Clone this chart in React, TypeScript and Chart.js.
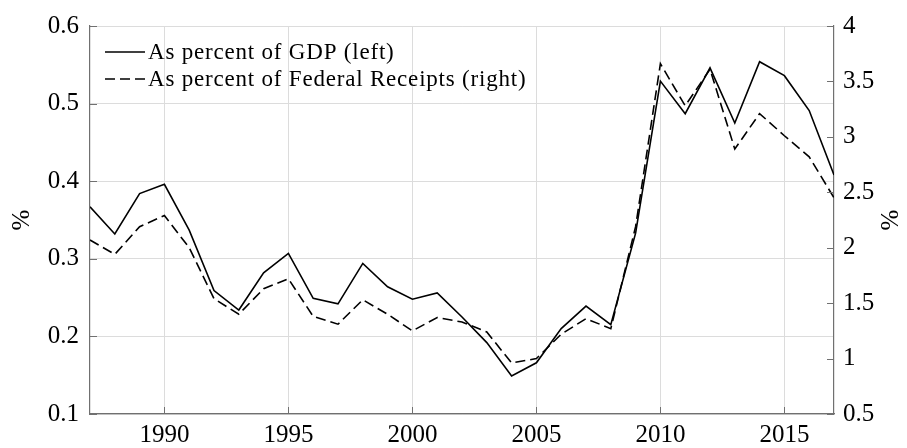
import React, { useEffect, useRef } from "react";
import Chart from "chart.js/auto";

const years = [1987,1988,1989,1990,1991,1992,1993,1994,1995,1996,1997,1998,1999,2000,2001,2002,2003,2004,2005,2006,2007,2008,2009,2010,2011,2012,2013,2014,2015,2016,2017];
const pctGDP = [0.367,0.332,0.384,0.396,0.337,0.259,0.234,0.282,0.307,0.249,0.242,0.294,0.264,0.248,0.256,0.225,0.192,0.149,0.166,0.210,0.239,0.215,0.333,0.529,0.487,0.546,0.475,0.554,0.536,0.491,0.408];
const pctReceipts = [2.07,1.94,2.19,2.29,2.00,1.54,1.40,1.63,1.72,1.38,1.31,1.53,1.40,1.25,1.37,1.33,1.24,0.96,1.00,1.22,1.36,1.27,2.19,3.66,3.28,3.61,2.89,3.21,3.01,2.82,2.45];
const xTicks = [1990,1995,2000,2005,2010,2015];
const leftTicks = [0.1,0.2,0.3,0.4,0.5,0.6];
const rightTicks = [0.5,1,1.5,2,2.5,3,3.5,4];
const legendLabels = ["As percent of GDP (left)", "As percent of Federal Receipts (right)"];
const axisTitle = "%";

const FONT = "'Liberation Serif', 'DejaVu Serif', serif";
const AXIS = "#707070";
const DASH = [10, 5];

export default function App() {
  const ref = useRef<HTMLCanvasElement | null>(null);
  useEffect(() => {
    document.body.style.margin = "0";
    const canvas = ref.current!;
    const inward = {
      id: "inward",
      afterDraw(chart: any) {
        const ctx = chart.ctx;
        const a = chart.chartArea;
        const L = 7;
        ctx.save();
        ctx.strokeStyle = AXIS;
        ctx.lineWidth = 1;
        ctx.beginPath();
        chart.scales.y.ticks.forEach((t: any) => {
          const y = Math.round(chart.scales.y.getPixelForValue(t.value)) + 0.5;
          ctx.moveTo(a.left, y); ctx.lineTo(a.left + L, y);
        });
        chart.scales.y1.ticks.forEach((t: any) => {
          const y = Math.round(chart.scales.y1.getPixelForValue(t.value)) + 0.5;
          ctx.moveTo(a.right, y); ctx.lineTo(a.right - L, y);
        });
        chart.scales.x.ticks.forEach((t: any) => {
          const x = Math.round(chart.scales.x.getPixelForValue(t.value)) + 0.5;
          ctx.moveTo(x, a.bottom); ctx.lineTo(x, a.bottom - L);
        });
        ctx.stroke();
        // axis titles, both rotated counter-clockwise
        ctx.fillStyle = "#000";
        ctx.font = `25px ${FONT}`;
        ctx.textAlign = "center";
        ctx.textBaseline = "middle";
        const midY = (a.top + a.bottom) / 2;
        [22, 891].forEach((x) => {
          ctx.save();
          ctx.translate(x, midY);
          ctx.rotate(-Math.PI / 2);
          ctx.fillText(axisTitle, 0, 0);
          ctx.restore();
        });
        // legend
        ctx.font = `23px ${FONT}`;
        (ctx as any).letterSpacing = "0.8px";
        ctx.textAlign = "left";
        const lx = a.left + 15;
        const rows = [a.top + 26, a.top + 53];
        ctx.strokeStyle = "#000";
        ctx.lineWidth = 1.6;
        ctx.setLineDash([]);
        ctx.beginPath(); ctx.moveTo(lx, rows[0]); ctx.lineTo(lx + 40, rows[0]); ctx.stroke();
        ctx.setLineDash(DASH);
        ctx.beginPath(); ctx.moveTo(lx, rows[1]); ctx.lineTo(lx + 40, rows[1]); ctx.stroke();
        ctx.setLineDash([]);
        ctx.fillText(legendLabels[0], lx + 43, rows[0] + 1);
        ctx.fillText(legendLabels[1], lx + 43, rows[1] + 1);
        ctx.restore();
      },
    };
    const tickFont = { family: FONT, size: 25 };
    const chart = new Chart(canvas, {
      type: "line",
      data: {
        datasets: [
          {
            label: legendLabels[0],
            data: years.map((x, i) => ({ x, y: pctGDP[i] })),
            borderColor: "#000",
            borderWidth: 1.6,
            pointRadius: 0,
            yAxisID: "y",
            tension: 0,
          },
          {
            label: legendLabels[1],
            data: years.map((x, i) => ({ x, y: pctReceipts[i] })),
            borderColor: "#000",
            borderWidth: 1.6,
            borderDash: DASH,
            pointRadius: 0,
            yAxisID: "y1",
            tension: 0,
          },
        ],
      },
      options: {
        animation: false,
        responsive: false,
        layout: { padding: { top: 23, left: 0, right: 0, bottom: 0 } },
        plugins: { legend: { display: false }, tooltip: { enabled: false } },
        scales: {
          x: {
            type: "linear",
            min: 1987,
            max: 2017,
            afterBuildTicks: (s: any) => { s.ticks = xTicks.map((v) => ({ value: v })); },
            afterFit: (s: any) => { s.height = 34; },
            grid: { color: "#dcdcdc", drawTicks: false },
            border: { color: AXIS, width: 1.2 },
            ticks: { color: "#000", font: tickFont, padding: 6, maxRotation: 0, callback: (v: any) => String(v) },
          },
          y: {
            position: "left",
            min: 0.1,
            max: 0.6,
            afterBuildTicks: (s: any) => { s.ticks = leftTicks.map((v) => ({ value: v })); },
            afterFit: (s: any) => { s.width = 90; },
            grid: { color: "#dcdcdc", drawTicks: false },
            border: { color: AXIS, width: 1.2 },
            ticks: { color: "#000", font: tickFont, padding: 11, callback: (v: any) => Number(v).toFixed(1) },
          },
          y1: {
            position: "right",
            min: 0.5,
            max: 4,
            afterBuildTicks: (s: any) => { s.ticks = rightTicks.map((v) => ({ value: v })); },
            afterFit: (s: any) => { s.width = 73; },
            grid: { display: false, drawTicks: false },
            border: { color: AXIS, width: 1.2 },
            ticks: { color: "#000", font: tickFont, padding: 9, callback: (v: any) => String(v) },
          },
        },
      },
      plugins: [inward],
    });
    return () => chart.destroy();
  }, []);
  return (
    <div style={{ width: 907, height: 448 }}>
      <canvas ref={ref} width={907} height={448} style={{ display: "block" }} />
    </div>
  );
}
